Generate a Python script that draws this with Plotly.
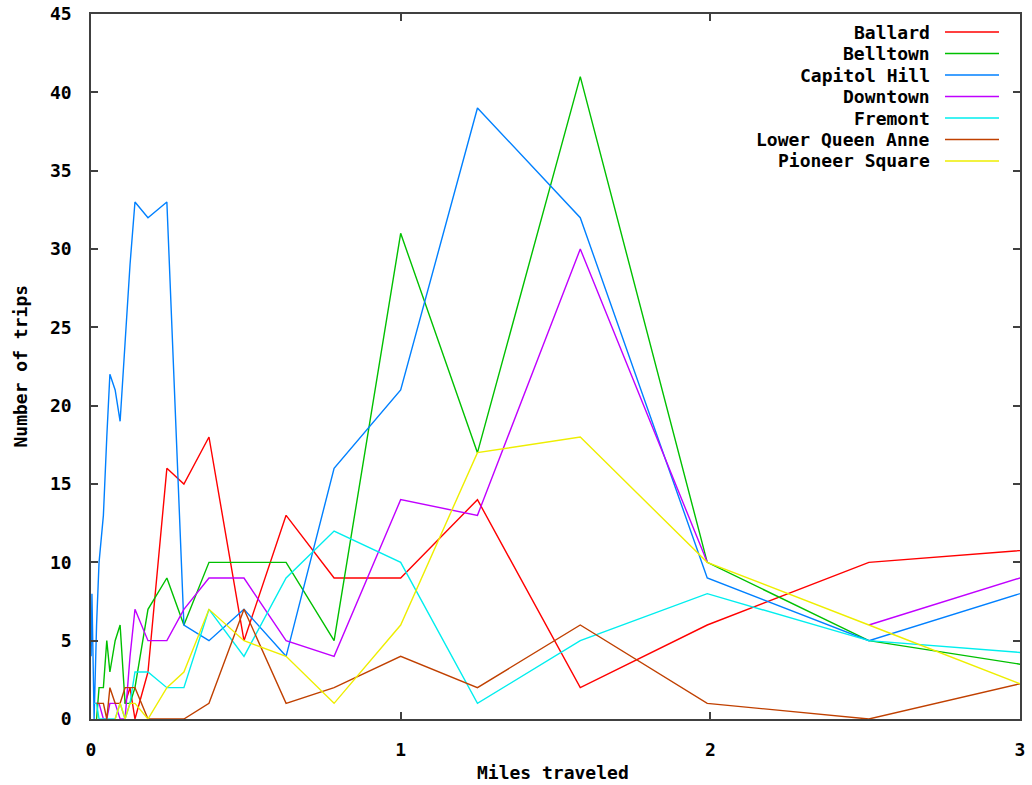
import plotly.graph_objects as go

# Shared x positions (miles); None column marks the Downtown gap
miles = [0.0005, 0.003, 0.010, 0.018, 0.026, 0.040, 0.051, 0.061, 0.078, 0.094,
         0.110, 0.126, 0.142, 0.184, 0.245, 0.300, 0.381, 0.494, 0.630, 0.785,
         1.0, 1.248, 1.58, 1.99, 2.25, 2.512, 3.162]
N = None
ballard       = [N, N, N, N, N, N, N, N, N, N, 1, 2, 0, 3, 16, 15, 18, 5, 13, 9, 9, 14, 2, 6, N, 10, 11]
belltown      = [N, N, N, 0, 2, 2, 5, 3, 5, 6, 1, 1, 2, 7, 9, 6, 10, 10, 10, 5, 31, 17, 41, 10, N, 5, 3]
capitol_hill  = [4, 8, 0, 6, 10, 13, 18, 22, 21, 19, 24, 29, 33, 32, 33, 6, 5, 7, 4, 16, 21, 39, 32, 9, N, 5, 9]
downtown      = [N, N, 1, 1, 1, 0, 0, 1, 1, 0, 0, 4, 7, 5, 5, 7, 9, 9, 5, 4, 14, 13, 30, 10, N, 6, 10]
fremont       = [N, N, 1, 1, 0, 0, 0, 0, 0, 1, 0, 1, 3, 3, 2, 2, 7, 4, 9, 12, 10, 1, 5, 8, N, 5, 4]
lower_qa      = [N, N, N, 1, 1, 1, 0, 2, 1, 1, 2, 2, 2, 0, 0, 0, 1, 7, 1, 2, 4, 2, 6, 1, N, 0, 3]
pioneer_sq    = [N, N, N, N, N, N, N, N, 0, 1, 0, 1, 1, 0, 2, 3, 7, 5, 4, 1, 6, 17, 18, 10, N, 6, 1]

names = ["Ballard", "Belltown", "Capitol Hill", "Downtown", "Fremont",
         "Lower Queen Anne", "Pioneer Square"]
series = [ballard, belltown, capitol_hill, downtown, fremont, lower_qa, pioneer_sq]
colors = ["#ff0000", "#00c000", "#0080ff", "#c000ff", "#00eeee", "#c04000", "#eeee00"]
y_ticks = [0, 5, 10, 15, 20, 25, 30, 35, 40, 45]
x_ticks = [0, 1, 2, 3]

FONT = dict(family="DejaVu Sans Mono", size=18, color="#000000", weight="bold")

fig = go.Figure()
for name, vals, col in zip(names, series, colors):
    fig.add_trace(go.Scatter(
        x=miles, y=vals, mode="lines", name=name,
        line=dict(color=col, width=1.4),
        connectgaps=(name != "Downtown"),
        showlegend=False,
    ))

L, R, T, B = 91, 1020, 14, 719
W, H = R - L, B - T
for i, (name, col) in enumerate(zip(names, colors)):
    py = 32 + i * 21.5
    yp = (B - py) / H
    fig.add_annotation(x=(932 - L) / W, y=yp, xref="paper", yref="paper",
                       text=name, showarrow=False, xanchor="right", yanchor="middle",
                       font=FONT)
    fig.add_shape(type="line", xref="paper", yref="paper",
                  x0=(945 - L) / W, x1=(999 - L) / W, y0=yp, y1=yp,
                  line=dict(color=col, width=1.4))

fig.add_annotation(x=(20 - L) / W, y=0.5, xref="paper", yref="paper",
                   text="Number of trips", textangle=-90, showarrow=False,
                   xanchor="center", yanchor="middle", font=FONT)
fig.add_annotation(x=(553 - L) / W, y=(B - 773) / H, xref="paper", yref="paper",
                   text="Miles traveled", showarrow=False,
                   xanchor="center", yanchor="middle", font=FONT)

axis_common = dict(showline=True, linecolor="#404040", linewidth=1.5, mirror="ticks",
                   ticks="inside", ticklen=7, tickcolor="#404040", tickwidth=1.5,
                   showgrid=False, zeroline=False, tickfont=FONT, automargin=False,
                   ticklabeloverflow="allow")
fig.update_xaxes(range=[0, 3], tickvals=x_ticks, ticktext=[str(v) for v in x_ticks],
                 ticklabelstandoff=14, **axis_common)
fig.update_yaxes(range=[0, 45], tickvals=y_ticks, ticktext=[str(v) for v in y_ticks],
                 ticklabelstandoff=14, **axis_common)

fig.update_layout(width=1032, height=785, autosize=False,
                  margin=dict(l=L, r=1032 - R, t=T, b=785 - B),
                  plot_bgcolor="white", paper_bgcolor="white", showlegend=False)

fig.write_html("out.html", config={"displayModeBar": False},
               post_script="document.body.style.margin='0';")
